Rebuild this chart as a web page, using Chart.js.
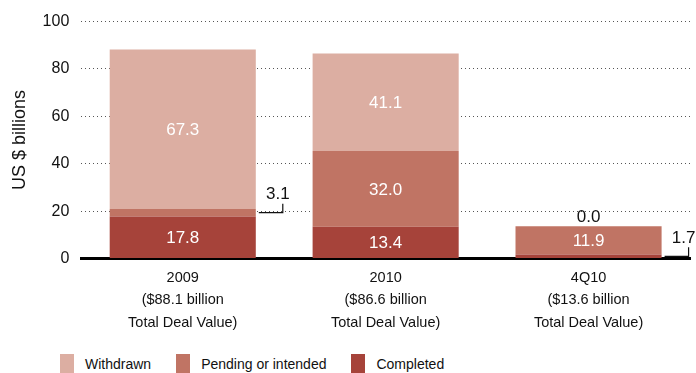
<!doctype html>
<html>
<head>
<meta charset="utf-8">
<title>Deal value by status</title>
<script src="https://cdn.jsdelivr.net/npm/chart.js@4/dist/chart.umd.min.js"></script>
<style>
  html, body { margin: 0; padding: 0; background: #fff; }
  #wrap { position: relative; width: 696px; height: 373px; }
  #chartBox { position: absolute; left: 0; top: 0; width: 696px; height: 344px; }
  #legend {
    position: absolute; left: 60px; top: 354px; display: flex; align-items: center;
    font: 14px "Liberation Sans", Arial, Helvetica, sans-serif; color: #111;
  }
  #legend .item { display: flex; align-items: center; margin-right: 25px; }
  #legend .swatch { width: 14px; height: 19px; margin-right: 11px; }
</style>
</head>
<body>
<div id="wrap">
  <div id="chartBox"><canvas id="dealChart"></canvas></div>
  <div id="legend"></div>
</div>
<script>
  // categories (multi-line x labels)
  const categories = [
    ['2009', '($88.1 billion', 'Total Deal Value)'],
    ['2010', '($86.6 billion', 'Total Deal Value)'],
    ['4Q10', '($13.6 billion', 'Total Deal Value)']
  ];
  const completed = [17.8, 13.4, 1.7];
  const pending = [3.1, 32.0, 11.9];
  const withdrawn = [67.3, 41.1, 0.0];
  const yTicks = [0, 20, 40, 60, 80, 100];

  const FONT = '"Liberation Sans", Arial, Helvetica, sans-serif';

  // value labels: white inside big segments, black with a leader line for small ones
  const valueLabels = {
    id: 'valueLabels',
    afterDatasetsDraw(chart) {
      const ctx = chart.ctx;
      ctx.save();
      ctx.font = '17px ' + FONT;
      ctx.textAlign = 'center';
      ctx.textBaseline = 'middle';
      chart.data.datasets.forEach((ds, di) => {
        const meta = chart.getDatasetMeta(di);
        meta.data.forEach((bar, i) => {
          const v = ds.data[i];
          const text = v.toFixed(1);
          const top = bar.y, base = bar.base;
          const mid = (top + base) / 2;
          const right = bar.x + bar.width / 2;
          if (base - top > 22) {
            ctx.fillStyle = '#ffffff';
            ctx.fillText(text, bar.x, mid + 1);
          } else if (v === 0) {
            ctx.fillStyle = '#111';
            ctx.fillText(text, bar.x, top - 9);
          } else {
            // bracket leader line to the right of the bar
            const x0 = right + 3, x1 = right + 27;
            ctx.strokeStyle = '#111';
            ctx.lineWidth = 1.2;
            ctx.beginPath();
            ctx.moveTo(x0, mid);
            ctx.lineTo(x1, mid);
            ctx.lineTo(x1, mid - 9);
            ctx.stroke();
            ctx.fillStyle = '#111';
            ctx.fillText(text, x1 - 5, mid - 18);
          }
        });
      });
      ctx.restore();
    }
  };

  const ctx = document.getElementById('dealChart').getContext('2d');
  const dealChart = new Chart(ctx, {
    type: 'bar',
    data: {
      labels: categories,
      datasets: [
        { label: 'Completed', data: completed, backgroundColor: '#a6433a' },
        { label: 'Pending or intended', data: pending, backgroundColor: '#c07464' },
        { label: 'Withdrawn', data: withdrawn, backgroundColor: '#dcaea2' }
      ]
    },
    options: {
      responsive: true,
      maintainAspectRatio: false,
      animation: false,
      layout: { padding: { left: 9, right: 6, top: 14, bottom: 2 } },
      datasets: {
        bar: { categoryPercentage: 1.0, barPercentage: 0.72 }
      },
      scales: {
        x: {
          stacked: true,
          grid: { display: false, drawTicks: false },
          border: { display: true, color: '#000', width: 3 },
          ticks: {
            color: '#111',
            padding: 8,
            font: { family: FONT, size: 14.5, lineHeight: 1.55 },
            maxRotation: 0
          }
        },
        y: {
          stacked: true,
          min: 0,
          max: 100,
          afterBuildTicks: (axis) => {
            axis.ticks = yTicks.map(v => ({ value: v }));
          },
          grid: {
            color: '#555',
            lineWidth: 1,
            drawTicks: false
          },
          border: { display: false, dash: [1, 3] },
          ticks: {
            color: '#111',
            padding: 12,
            font: { family: FONT, size: 16 }
          },
          title: {
            display: true,
            text: 'US $ billions',
            color: '#111',
            padding: { top: 0, bottom: 0 },
            font: { family: FONT, size: 18 }
          }
        }
      },
      plugins: {
        legend: { display: false },
        tooltip: { enabled: false }
      }
    },
    plugins: [valueLabels]
  });

  // legend row, top-to-bottom stack order
  const legendEl = document.getElementById('legend');
  dealChart.data.datasets.slice().reverse().forEach(ds => {
    const item = document.createElement('div');
    item.className = 'item';
    const sw = document.createElement('span');
    sw.className = 'swatch';
    sw.style.background = ds.backgroundColor;
    const label = document.createElement('span');
    label.textContent = ds.label;
    item.appendChild(sw);
    item.appendChild(label);
    legendEl.appendChild(item);
  });
</script>
</body>
</html>
